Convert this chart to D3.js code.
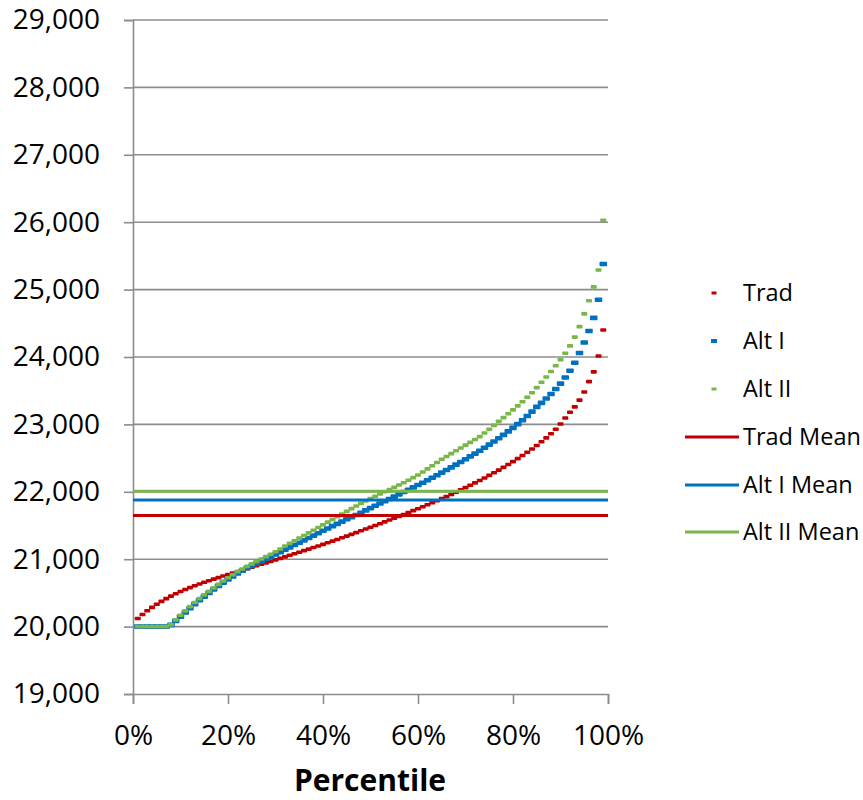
<!DOCTYPE html>
<html><head><meta charset="utf-8">
<script src="https://cdn.jsdelivr.net/npm/d3@7"></script>
<style>body{margin:0;background:#fff} text{font-family:"Open Sans",sans-serif;fill:#000}</style>
</head><body><svg id="c" width="863" height="800"></svg>
<script>
const percentiles = d3.range(1, 100);
const trad = [20120,20180,20235,20285,20332,20375,20415,20452,20487,20520,
20550,20579,20606,20632,20657,20681,20704,20727,20750,20772,
20794,20815,20836,20858,20880,20902,20924,20946,20968,20990,
21012,21035,21058,21081,21104,21127,21150,21173,21196,21220,
21244,21268,21293,21318,21343,21369,21395,21421,21447,21473,
21500,21527,21554,21581,21608,21636,21664,21692,21720,21749,
21778,21807,21837,21867,21898,21929,21961,21994,22028,22062,
22097,22132,22168,22205,22243,22282,22322,22363,22405,22448,
22492,22538,22586,22636,22688,22742,22800,22862,22928,23005,
23095,23180,23260,23360,23480,23635,23780,24015,24400];
const altI = [20000,20000,20000,20000,20000,20000,20000,20025,20085,20147,
20210,20272,20333,20390,20445,20500,20553,20604,20653,20700,
20745,20788,20829,20866,20900,20934,20968,21002,21036,21070,
21105,21140,21175,21210,21245,21280,21315,21350,21386,21422,
21456,21490,21524,21558,21592,21624,21656,21690,21724,21758,
21792,21826,21860,21894,21928,21962,21996,22030,22065,22100,
22135,22171,22208,22246,22285,22324,22363,22403,22443,22484,
22525,22567,22610,22654,22700,22747,22795,22845,22896,22949,
23004,23061,23125,23190,23260,23320,23385,23450,23525,23605,
23695,23795,23915,24060,24215,24385,24580,24850,25380];
const altII = [20000,20000,20000,20000,20000,20000,20000,20030,20100,20168,
20234,20297,20357,20415,20470,20523,20575,20626,20676,20725,
20770,20813,20854,20893,20930,20966,21002,21038,21074,21110,
21152,21195,21235,21274,21313,21352,21391,21430,21470,21510,
21550,21590,21630,21670,21710,21750,21790,21828,21865,21900,
21935,21968,22000,22032,22066,22100,22135,22171,22210,22250,
22294,22340,22386,22434,22482,22524,22566,22608,22650,22692,
22734,22776,22818,22872,22927,22985,23045,23100,23157,23215,
23275,23337,23402,23470,23545,23625,23703,23785,23870,23960,
24055,24165,24295,24450,24640,24835,25040,25290,26030];
const means = [21650, 21880, 22010];
const seriesNames = ["Trad", "Alt I", "Alt II"];
const meanNames = ["Trad Mean", "Alt I Mean", "Alt II Mean"];
const colors = ["#C00000", "#0070C0", "#7AB648"];
const yTicks = [19000,20000,21000,22000,23000,24000,25000,26000,27000,28000,29000];
const xTicks = [0, 20, 40, 60, 80, 100];
const xTitle = "Percentile";

const svg = d3.select("#c");
const L = 133, R = 608, T = 20, B = 694;
const x = d3.scaleLinear().domain([0, 100]).range([L, R]);
const y = d3.scaleLinear().domain([19000, 29000]).range([B, T]);
const gridCol = "#8c8c8c";

// gridlines
svg.append("g").selectAll("line").data(yTicks.slice(1)).join("line")
  .attr("x1", L).attr("x2", R).attr("y1", d => y(d)).attr("y2", d => y(d))
  .attr("stroke", gridCol).attr("stroke-width", 1.6);

// y axis
const yAx = svg.append("g").attr("transform", `translate(${L},0)`)
  .call(d3.axisLeft(y).tickValues(yTicks).tickFormat(d3.format(",")).tickSize(9).tickPadding(24));
yAx.select(".domain").attr("stroke", gridCol).attr("stroke-width", 1.6);
yAx.selectAll(".tick line").attr("stroke", gridCol).attr("stroke-width", 1.6);
yAx.selectAll("text").style("font-size", "28px").attr("fill", "#000");

// x axis
const xAx = svg.append("g").attr("transform", `translate(0,${B})`)
  .call(d3.axisBottom(x).tickValues(xTicks).tickFormat(d => d + "%").tickSize(10).tickPadding(21));
xAx.select(".domain").attr("stroke", gridCol).attr("stroke-width", 1.6);
xAx.selectAll(".tick line").attr("stroke", gridCol).attr("stroke-width", 1.6);
xAx.selectAll("text").style("font-size", "28px").attr("fill", "#000");

svg.append("text").attr("x", 370).attr("y", 791).attr("text-anchor", "middle")
  .style("font-size", "30px").style("font-weight", "bold").text(xTitle);

// markers
const seriesData = [trad, altI, altII];
const mSize = [[6, 3.6], [7.5, 4.6], [6, 3.6]];
seriesData.forEach((vals, si) => {
  const [w, h] = mSize[si];
  svg.append("g").selectAll("rect").data(percentiles).join("rect")
    .attr("x", (p) => x(p) - w / 2)
    .attr("y", (p, i) => y(vals[i]) - h / 2)
    .attr("width", w).attr("height", h).attr("rx", 0.8)
    .attr("fill", colors[si]);
});

// mean lines
means.forEach((m, i) => {
  svg.append("line").attr("x1", x(0)).attr("x2", x(100))
    .attr("y1", y(m)).attr("y2", y(m))
    .attr("stroke", colors[i]).attr("stroke-width", 3);
});

// legend
const lg = svg.append("g");
const rowY = [293, 341, 389, 437, 485, 532];
seriesNames.forEach((n, i) => {
  const [w, h] = i === 1 ? [6, 4] : [5, 3];
  lg.append("rect").attr("x", 714 - w / 2).attr("y", rowY[i] - h / 2)
    .attr("width", w).attr("height", h).attr("fill", colors[i]);
  lg.append("text").attr("x", 743).attr("y", rowY[i]).attr("dy", "0.35em")
    .style("font-size", "23.5px").text(n);
});
meanNames.forEach((n, i) => {
  const yy = rowY[i + 3];
  lg.append("line").attr("x1", 685).attr("x2", 739).attr("y1", yy).attr("y2", yy)
    .attr("stroke", colors[i]).attr("stroke-width", 3);
  lg.append("text").attr("x", 743).attr("y", yy).attr("dy", "0.35em")
    .style("font-size", "23.5px").text(n);
});
</script></body></html>
